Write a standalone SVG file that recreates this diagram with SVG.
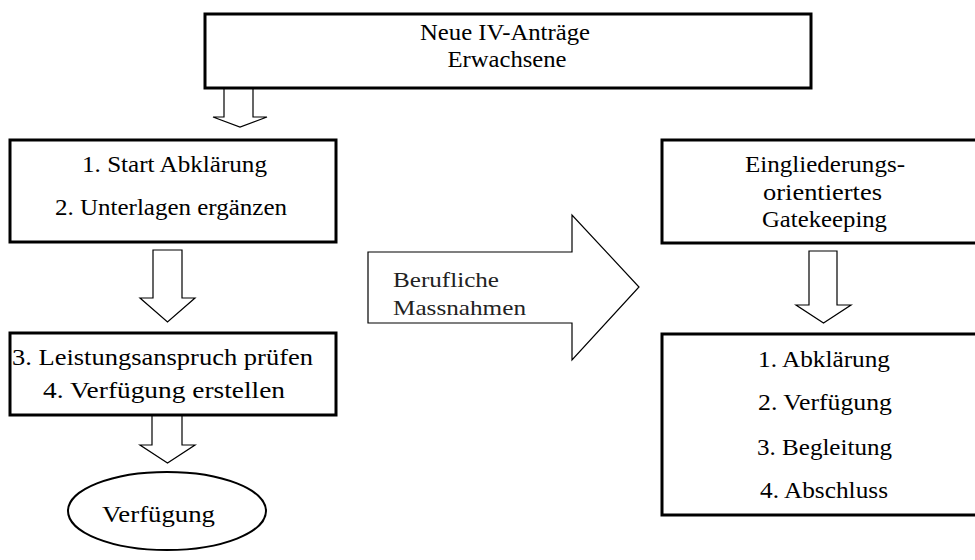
<svg xmlns="http://www.w3.org/2000/svg" width="975" height="560" viewBox="0 0 975 560">
<style>
.box{fill:#fff;stroke:#000;stroke-width:3}
.arr{fill:#fff;stroke:#000;stroke-width:1.2;stroke-linejoin:miter}
.t{font-family:'Liberation Serif','DejaVu Serif',serif;font-size:23px;fill:#000;text-anchor:middle}
.g{font-family:'Liberation Serif','DejaVu Serif',serif;font-size:21px;fill:#222}
</style>
<rect width="975" height="560" fill="#fff"/>
<g id="connectors">
<polygon class="arr" points="224,88 253,88 253,117 267,117 240,127 213,117 224,117"/>
<polygon class="arr" points="153,250 182,250 182,298 195,298 167.5,322 140,298 153,298"/>
<polygon class="arr" points="152,415 182,415 182,445 195,445 167.5,463 140,445 152,445"/>
<polygon class="arr" points="809,251 837,251 837,305 851,305 823.5,323 796,305 809,305"/>
<g id="berufliche">
<polygon class="arr" points="368,252 572,252 572,215 639,287 572,360 572,323 368,323"/>
<text class="g" x="393" y="287" textLength="106" lengthAdjust="spacingAndGlyphs">Berufliche</text>
<text class="g" x="393" y="315" textLength="133" lengthAdjust="spacingAndGlyphs">Massnahmen</text>
</g>
</g>
<g id="neue">
<rect class="box" x="205" y="14" width="606" height="74"/>
<text class="t" x="505" y="40" textLength="170" lengthAdjust="spacingAndGlyphs">Neue IV-Anträge</text>
<text class="t" x="507" y="67" textLength="119" lengthAdjust="spacingAndGlyphs">Erwachsene</text>
</g>
<g id="start">
<rect class="box" x="10" y="140" width="326" height="102"/>
<text class="t" x="174.5" y="172" textLength="185" lengthAdjust="spacingAndGlyphs">1. Start Abklärung</text>
<text class="t" x="171" y="215" textLength="232" lengthAdjust="spacingAndGlyphs">2. Unterlagen ergänzen</text>
</g>
<g id="leistung">
<rect class="box" x="10" y="333" width="326" height="82"/>
<text class="t" x="162.5" y="365" textLength="301" lengthAdjust="spacingAndGlyphs">3. Leistungsanspruch prüfen</text>
<text class="t" x="164" y="398" textLength="242" lengthAdjust="spacingAndGlyphs">4. Verfügung erstellen</text>
</g>
<g id="verfuegung">
<ellipse cx="167" cy="511" rx="99" ry="39" fill="#fff" stroke="#000" stroke-width="2"/>
<text class="t" x="158.5" y="522" textLength="113" lengthAdjust="spacingAndGlyphs">Verfügung</text>
</g>
<g id="gatekeeping">
<rect class="box" x="662" y="140" width="330" height="103"/>
<text class="t" x="825" y="172" textLength="160" lengthAdjust="spacingAndGlyphs">Eingliederungs-</text>
<text class="t" x="822.5" y="200" textLength="119" lengthAdjust="spacingAndGlyphs">orientiertes</text>
<text class="t" x="824.5" y="227" textLength="125" lengthAdjust="spacingAndGlyphs">Gatekeeping</text>
</g>
<g id="schritte">
<rect class="box" x="662" y="334" width="330" height="181"/>
<text class="t" x="824" y="367" textLength="132" lengthAdjust="spacingAndGlyphs">1. Abklärung</text>
<text class="t" x="825" y="410" textLength="134" lengthAdjust="spacingAndGlyphs">2. Verfügung</text>
<text class="t" x="824.5" y="455" textLength="135" lengthAdjust="spacingAndGlyphs">3. Begleitung</text>
<text class="t" x="824" y="498" textLength="128" lengthAdjust="spacingAndGlyphs">4. Abschluss</text>
</g>
</svg>
